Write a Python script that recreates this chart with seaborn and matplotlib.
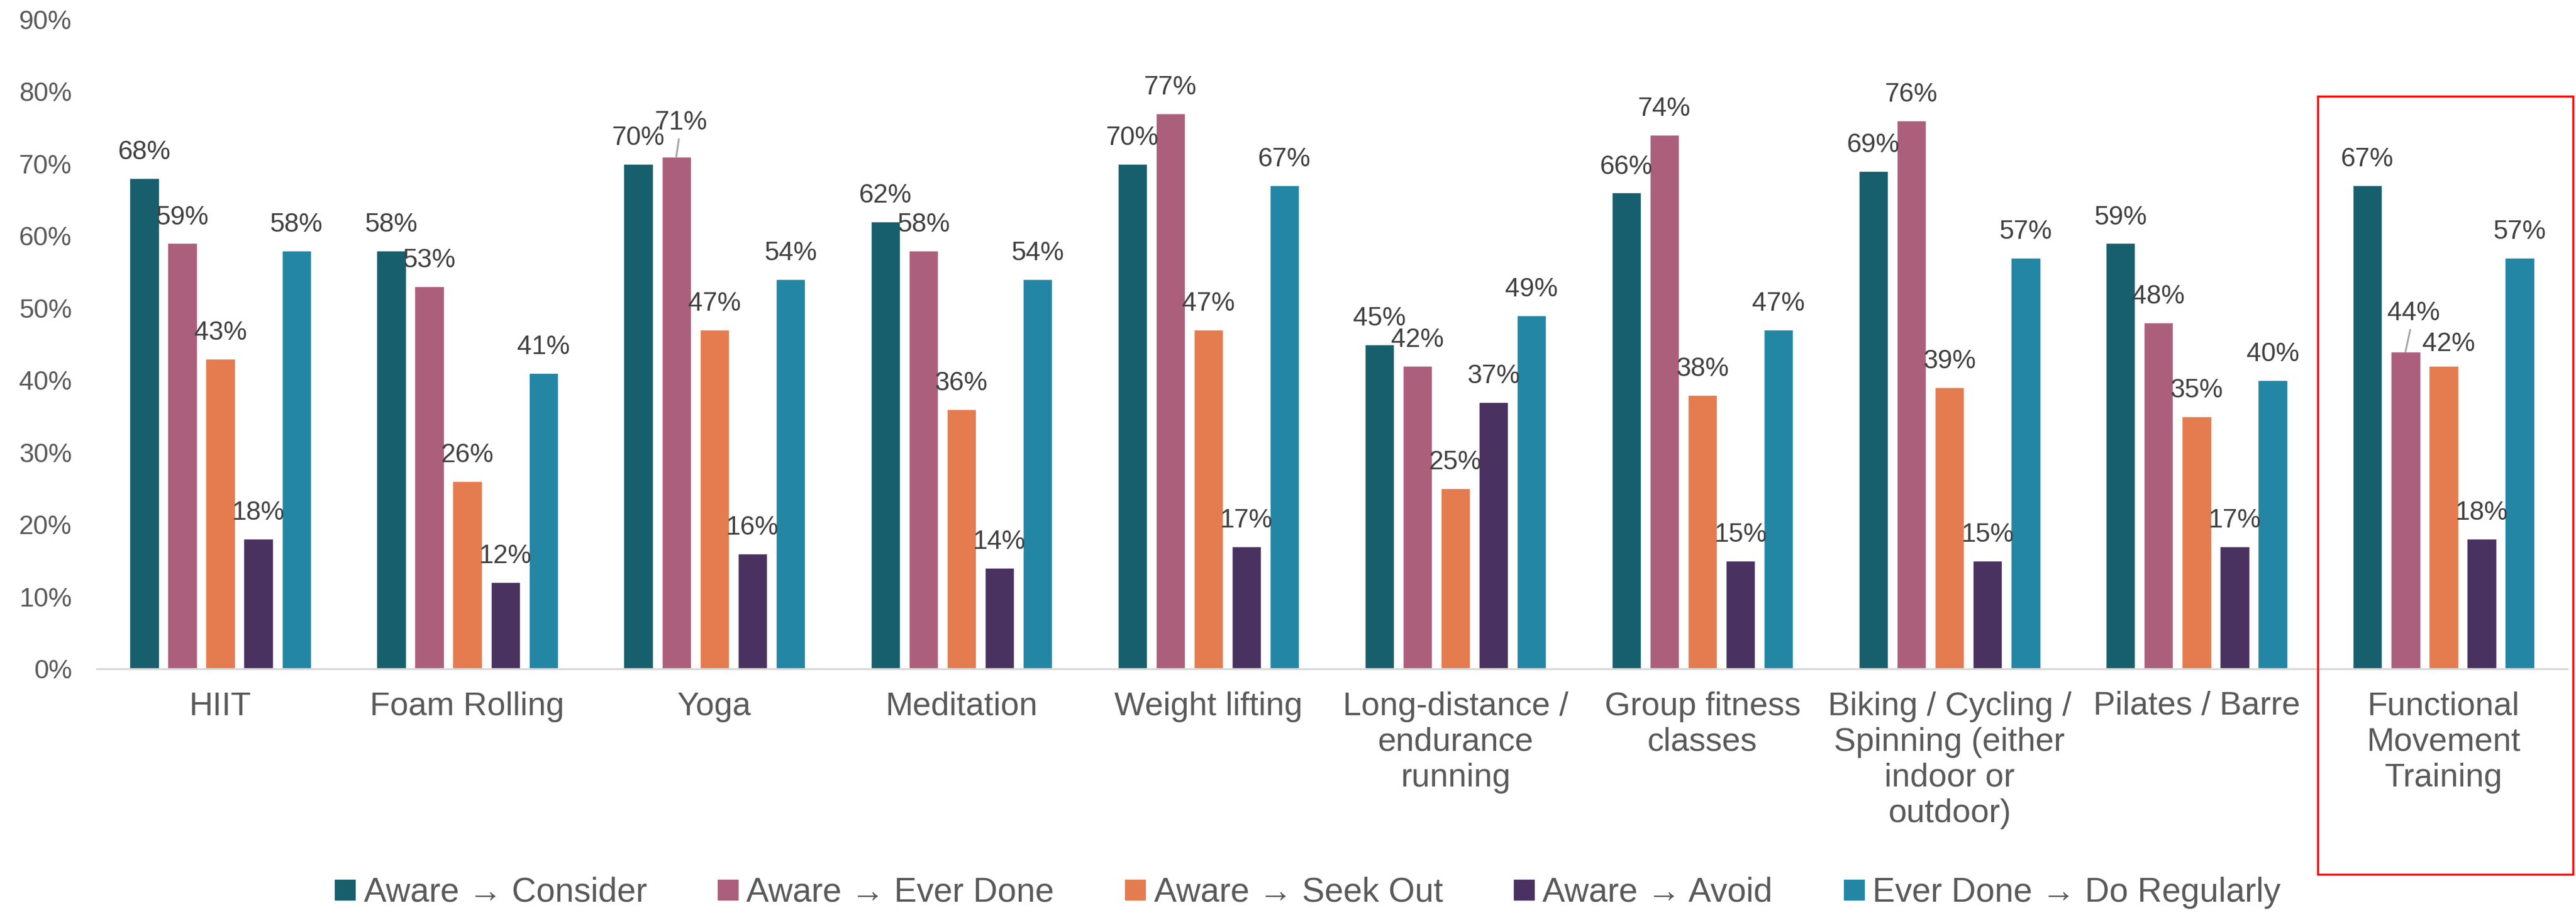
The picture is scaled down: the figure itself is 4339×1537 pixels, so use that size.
import matplotlib
matplotlib.use("Agg")
import matplotlib.pyplot as plt
import matplotlib.patches as mpatches
import seaborn as sns
import pandas as pd

# Activities (tick labels, with their line breaks)
activities = [
    "HIIT",
    "Foam Rolling",
    "Yoga",
    "Meditation",
    "Weight lifting",
    "Long-distance /\nendurance\nrunning",
    "Group fitness\nclasses",
    "Biking / Cycling /\nSpinning (either\nindoor or\noutdoor)",
    "Pilates / Barre",
    "Functional\nMovement\nTraining",
]

# Funnel conversion metrics (legend order)
metrics = [
    "Aware \u2192 Consider",
    "Aware \u2192 Ever Done",
    "Aware \u2192 Seek Out",
    "Aware \u2192 Avoid",
    "Ever Done \u2192 Do Regularly",
]

# Conversion rates (%) per metric, one value per activity
aware_consider = [68, 58, 70, 62, 70, 45, 66, 69, 59, 67]
aware_ever_done = [59, 53, 71, 58, 77, 42, 74, 76, 48, 44]
aware_seek_out = [43, 26, 47, 36, 47, 25, 38, 39, 35, 42]
aware_avoid = [18, 12, 16, 14, 17, 37, 15, 15, 17, 18]
done_regularly = [58, 41, 54, 54, 67, 49, 47, 57, 40, 57]

series = [aware_consider, aware_ever_done, aware_seek_out, aware_avoid, done_regularly]
colors = ["#175F6C", "#AC5F7B", "#E47C50", "#49325F", "#2386A5"]

df = pd.DataFrame(
    [(a, m, v) for m, vals in zip(metrics, series) for a, v in zip(activities, vals)],
    columns=["activity", "metric", "pct"],
)

sns.set_theme(style="white")
plt.rcParams["font.family"] = ["Liberation Sans", "DejaVu Sans"]

W, H, DPI = 4339, 1537, 100
fig = plt.figure(figsize=(W / DPI, H / DPI), dpi=DPI)
ax = fig.add_axes([163 / W, 1 - 1126 / H, (4324 - 163) / W, (1126 - 33) / H])

sns.barplot(
    data=df, x="activity", y="pct", hue="metric", order=activities,
    hue_order=metrics, palette=colors, saturation=1, width=0.77, gap=0.23,
    ax=ax, legend=True,
)

ax.set_ylim(0, 90)
ax.set_xlim(-0.5, len(activities) - 0.5)
ax.set_yticks(range(0, 91, 10))
ax.set_yticklabels([f"{t}%" for t in range(0, 91, 10)])
ax.tick_params(axis="y", labelsize=32, labelcolor="#595959", length=0, pad=30)
ax.tick_params(axis="x", labelsize=40, labelcolor="#595959", length=0, pad=27)
for lbl in ax.get_xticklabels():
    lbl.set_linespacing(1.2)
    lbl.set_va("top")
ax.set_xlabel("")
ax.set_ylabel("")
for side in ("left", "right", "top"):
    ax.spines[side].set_visible(False)
ax.spines["bottom"].set_color("#D9D9D9")
ax.spines["bottom"].set_linewidth(2.5)
ax.grid(False)

# Hand-placed labels: (activity index, metric index) -> (dx, dy) in points,
# plus whether a leader line connects the label to its bar.
label_nudge = {
    (2, 1): (6, 10),
    (9, 1): (10, 15),
    (9, 2): (6, -5),
}
leaders = {(2, 1), (9, 1)}

for mi, cont in enumerate(ax.containers):
    vals = series[mi]
    for ai, bar in enumerate(cont):
        x = bar.get_x() + bar.get_width() / 2
        v = vals[ai]
        dx, dy = label_nudge.get((ai, mi), (0, 0))
        kw = {}
        if (ai, mi) in leaders:
            kw["arrowprops"] = dict(arrowstyle="-", color="#A6A6A6", lw=2.2,
                                    shrinkA=3, shrinkB=0)
        ax.annotate(
            f"{v}%", xy=(x, v), xytext=(dx, 23 + dy), textcoords="offset points",
            ha="center", va="baseline", fontsize=32, color="#404040", **kw,
        )

ax.legend_.remove()
sq = [plt.Line2D([], [], marker="s", linestyle="", markersize=25,
                 markerfacecolor=c, markeredgecolor=c) for c in colors]
fig.legend(
    sq, metrics, loc="center", bbox_to_anchor=(0.507, 1 - 1503 / H), ncol=5,
    frameon=False, fontsize=41, labelcolor="#595959", handletextpad=0.15,
    columnspacing=2.0, handlelength=0.8, borderaxespad=0, borderpad=0,
)

# Highlight frame around the last activity
fig.patches.append(mpatches.Rectangle(
    (3904 / W, 1 - 1472 / H), (4334 - 3904) / W, (1472 - 162) / H,
    transform=fig.transFigure, fill=False, edgecolor="#FF0000", linewidth=2.5,
))

fig.savefig("out.png", dpi=DPI)
